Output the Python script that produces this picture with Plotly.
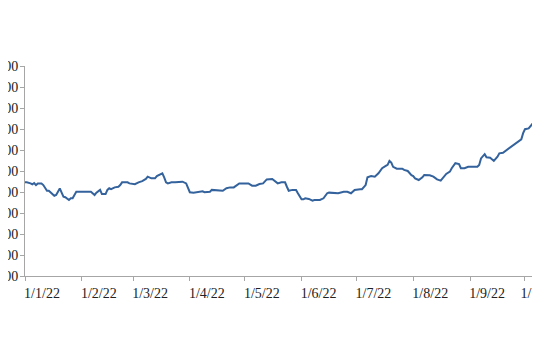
import plotly.graph_objects as go

# Dates (2022, MM-DD) and index values
dates_md = [
    "01-01","01-02","01-04","01-05","01-06","01-07","01-08","01-10","01-11","01-12",
    "01-13","01-14","01-16","01-17","01-18","01-20","01-21","01-22","01-23","01-25",
    "01-26","01-27","01-28","01-29","02-06","02-08","02-09","02-11","02-12","02-14",
    "02-15","02-16","02-17","02-19","02-21","02-22","02-23","02-26","02-27","03-02",
    "03-04","03-06","03-08","03-09","03-11","03-13","03-14","03-16","03-17","03-18",
    "03-19","03-20","03-22","03-24","03-26","03-28","03-30","03-31","04-01","04-03",
    "04-07","04-08","04-09","04-12","04-13","04-19","04-21","04-23","04-25","04-27",
    "04-28","05-03","05-05","05-07","05-09","05-11","05-13","05-16","05-17","05-19",
    "05-21","05-23","05-24","05-25","05-27","05-29","05-30","05-31","06-01","06-02",
    "06-03","06-05","06-07","06-08","06-11","06-13","06-15","06-16","06-19","06-21",
    "06-24","06-26","06-28","06-30","07-03","07-04","07-06","07-07","07-09","07-11",
    "07-13","07-15","07-17","07-18","07-19","07-20","07-21","07-23","07-26","07-27",
    "07-29","07-30","07-31","08-01","08-02","08-04","08-06","08-07","08-10","08-12",
    "08-14","08-16","08-17","08-19","08-21","08-22","08-24","08-26","08-27","08-29",
    "08-31","09-05","09-06","09-07","09-09","09-10","09-12","09-14","09-16","09-17",
    "09-19","09-21","09-23","09-25","09-27","09-29","09-30","10-01","10-03","10-05",
    "10-06","10-07","10-09","10-11",
]
values = [
    1446,1446,1441,1437,1443,1433,1441,1441,1433,1418,
    1406,1406,1389,1382,1386,1417,1397,1378,1375,1362,
    1370,1370,1386,1401,1401,1386,1397,1410,1390,1390,
    1410,1418,1414,1422,1425,1433,1446,1446,1441,1437,
    1446,1452,1462,1473,1465,1465,1476,1486,1489,1470,
    1446,1441,1446,1446,1449,1449,1441,1418,1399,1397,
    1399,1403,1399,1401,1410,1406,1418,1422,1422,1437,
    1441,1441,1430,1430,1438,1441,1460,1462,1454,1441,
    1446,1446,1425,1406,1410,1410,1394,1376,1365,1365,
    1370,1367,1359,1362,1362,1370,1394,1397,1394,1394,
    1401,1401,1394,1410,1413,1413,1433,1470,1476,1473,
    1489,1513,1524,1529,1548,1540,1520,1511,1511,1505,
    1500,1489,1480,1476,1465,1457,1470,1481,1480,1473,
    1460,1454,1465,1486,1497,1513,1537,1533,1513,1513,
    1520,1520,1529,1560,1580,1565,1563,1548,1568,1584,
    1587,1600,1613,1627,1640,1651,1680,1699,1703,1724,
    1719,1722,1727,1727,
]
dates = ["2022-" + d for d in dates_md]

y_range = [1000, 2000]
y_step = 100
x_range = ["2022-01-01", "2022-10-09 05:00"]

fig = go.Figure()
fig.add_trace(go.Scatter(
    x=dates, y=values, mode="lines",
    line=dict(color="#33629c", width=2),
    showlegend=False, hoverinfo="skip",
))

axis_font = dict(family="Liberation Serif", size=14, color="#222222")

fig.update_layout(
    template="none",
    width=532, height=352,
    margin=dict(l=17, r=0, t=58, b=84, pad=0),
    paper_bgcolor="white", plot_bgcolor="white",
    xaxis=dict(
        type="date", range=x_range, dtick="M1", tick0="2022-01-01",
        tickformat="%-d/%-m/%y", ticks="outside", ticklen=4,
        tickcolor="#a6a6a6", showline=True, linecolor="#a6a6a6", linewidth=1,
        showgrid=False, zeroline=False, tickfont=axis_font,
        ticklabelshift=17, ticklabeloverflow="allow", automargin=False,
    ),
    yaxis=dict(
        range=y_range, dtick=y_step, tick0=y_range[0], ticks="outside", ticklen=4,
        tickcolor="#a6a6a6", showline=True, linecolor="#a6a6a6", linewidth=1,
        showgrid=False, zeroline=False, tickfont=axis_font, tickformat="d",
        ticklabelstandoff=-1, ticklabeloverflow="allow", automargin=False,
    ),
)

fig.write_html("out.html")
